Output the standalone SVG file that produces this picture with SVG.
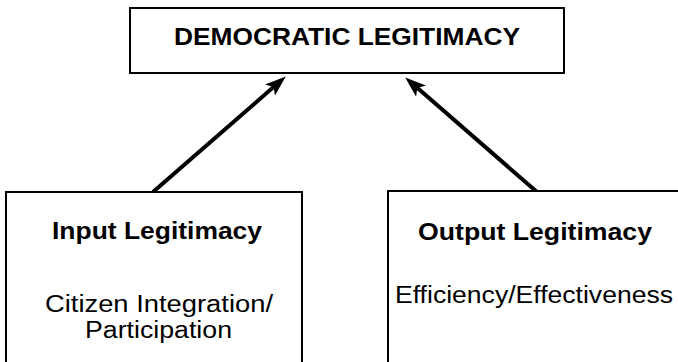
<svg xmlns="http://www.w3.org/2000/svg" width="678" height="362" viewBox="0 0 678 362">
  <defs>
    <style>
      .box { fill: #ffffff; stroke: #000000; stroke-width: 2; }
      .t { font-family: "Liberation Sans", Arial, Helvetica, sans-serif; fill: #000000; text-anchor: middle; }
      .b { font-weight: bold; font-size: 23px; }
      .r { font-weight: normal; font-size: 23px; }
      .conn { stroke: #000000; stroke-width: 4; fill: none; marker-end: url(#arrow); }
    </style>
    <marker id="arrow" markerUnits="userSpaceOnUse" viewBox="0 -8 22 16" markerWidth="22" markerHeight="16" refX="10" refY="0" orient="auto">
      <path d="M0,-7.5 L21,0 L0,7.5 L5,0 Z" fill="#000000"/>
    </marker>
  </defs>
  <rect width="678" height="362" fill="#ffffff"/>

  <g id="connectors">
    <line class="conn" x1="153" y1="192" x2="277.5" y2="83.6"/>
    <line class="conn" x1="537" y1="192" x2="413.5" y2="84.6"/>
  </g>

  <g id="node-democratic">
    <rect class="box" x="130" y="8" width="434" height="65"/>
    <text class="t b" x="347" y="45" textLength="346" lengthAdjust="spacingAndGlyphs">DEMOCRATIC LEGITIMACY</text>
  </g>

  <g id="node-input">
    <rect class="box" x="6" y="192" width="296" height="180"/>
    <text class="t b" x="157" y="239" textLength="210" lengthAdjust="spacingAndGlyphs">Input Legitimacy</text>
    <text class="t r" x="159" y="312" textLength="228" lengthAdjust="spacingAndGlyphs">Citizen Integration/</text>
    <text class="t r" x="158.5" y="338" textLength="147" lengthAdjust="spacingAndGlyphs">Participation</text>
  </g>

  <g id="node-output">
    <rect class="box" x="388" y="191" width="300" height="181"/>
    <text class="t b" x="535" y="240" textLength="234" lengthAdjust="spacingAndGlyphs">Output Legitimacy</text>
    <text class="t r" x="534" y="303" textLength="278" lengthAdjust="spacingAndGlyphs">Efficiency/Effectiveness</text>
  </g>
</svg>
